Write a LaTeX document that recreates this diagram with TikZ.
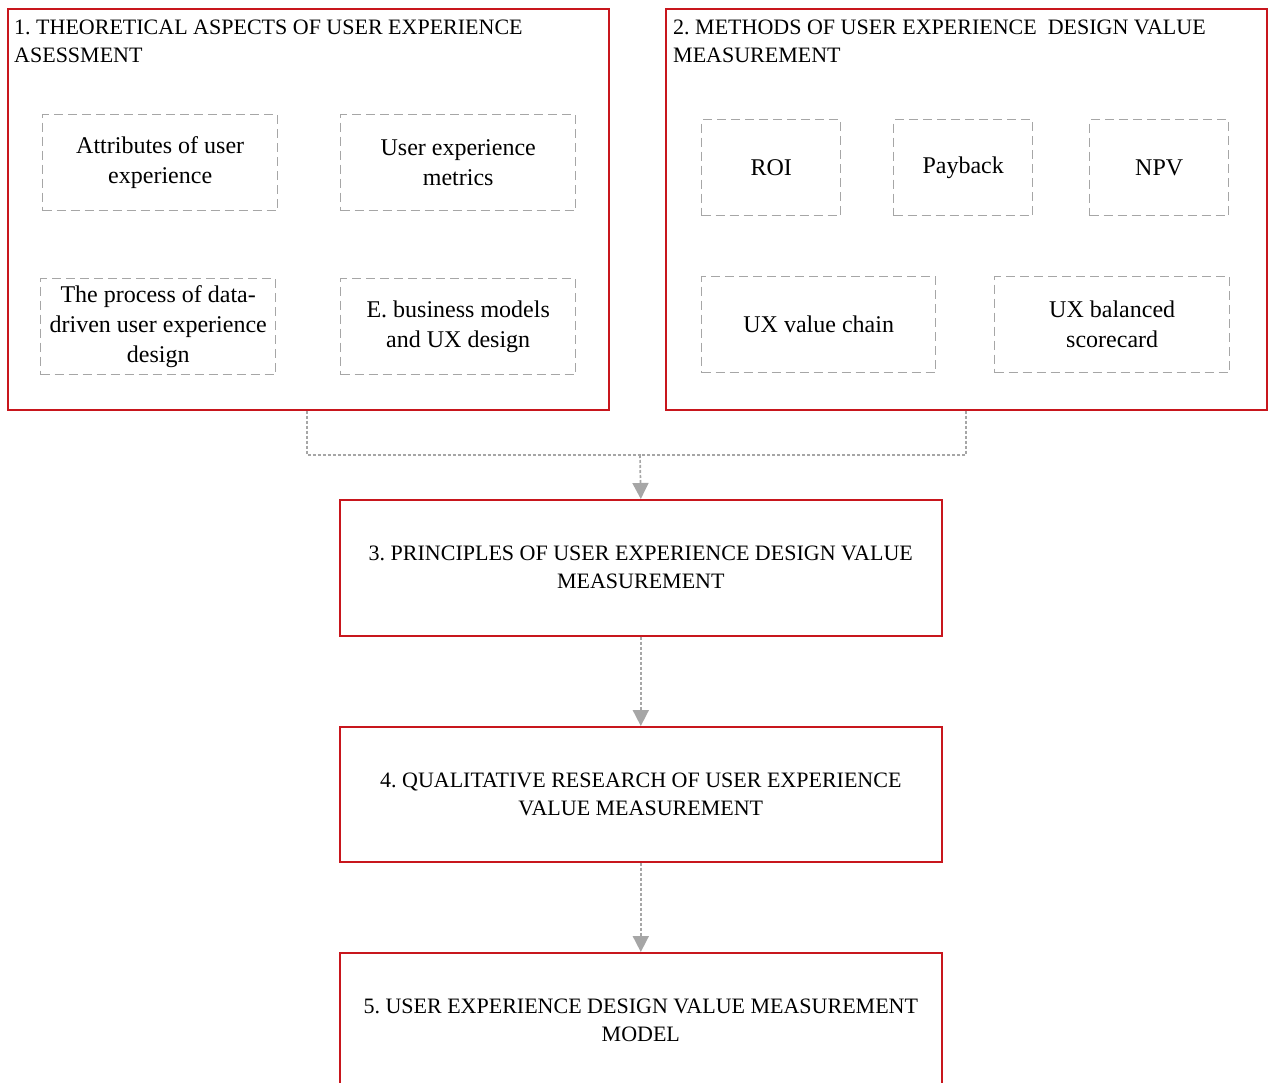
\documentclass[tikz,border=0pt]{standalone}
\usepackage{fontspec}
\setmainfont{Liberation Serif}
\frenchspacing
\usetikzlibrary{arrows.meta}
\definecolor{boxred}{HTML}{C8161D}
\definecolor{lgray}{HTML}{A6A6A6}
\begin{document}
\begin{tikzpicture}[x=1pt,y=-1pt,
 redbox/.style={draw=boxred, line width=1.6pt, inner sep=0pt, anchor=north west, align=center, font=\fontsize{22}{28}\selectfont},
 subbox/.style={draw=lgray, line width=1.4pt, dash pattern=on 9pt off 5pt, align=center, font=\fontsize{24}{30}\selectfont, inner sep=0pt, anchor=north west},
 head/.style={anchor=north west, align=left, font=\fontsize{22}{28}\selectfont, inner sep=0pt},
 conn/.style={draw=lgray, line width=1.7pt, dash pattern=on 3pt off 2pt},
 arr/.style={conn, -{Triangle[length=16pt,width=16pt]}}]
\useasboundingbox (0,0) rectangle (1271,1083);
% main boxes
\node[redbox, minimum width=601pt, minimum height=401pt] (b1) at (7,8) {};
\node[redbox, minimum width=601pt, minimum height=401pt] (b2) at (665,8) {};
\node[redbox, minimum width=602pt, minimum height=136pt] (b3) at (339,499) {3. PRINCIPLES OF USER EXPERIENCE DESIGN VALUE\\MEASUREMENT};
\node[redbox, minimum width=602pt, minimum height=135pt] (b4) at (339,726) {4. QUALITATIVE RESEARCH OF USER EXPERIENCE\\VALUE MEASUREMENT};
\node[redbox, minimum width=602pt, minimum height=136pt] (b5) at (339,952) {5. USER EXPERIENCE DESIGN VALUE MEASUREMENT\\MODEL};
% headers
\node[head] (h1) at (14,20) {1. THEORETICAL ASPECTS OF USER EXPERIENCE\\ASESSMENT};
\node[head] (h2) at (673,20) {2. METHODS OF USER EXPERIENCE\ \ DESIGN VALUE\\MEASUREMENT};
% sub boxes of 1
\node[subbox, minimum width=235pt, minimum height=96pt] (s11) at (42,114) {Attributes of user\\experience};
\node[subbox, minimum width=235pt, minimum height=96pt] (s12) at (340,114) {User experience\\metrics};
\node[subbox, minimum width=235pt, minimum height=96pt] (s13) at (40,278) {The process of data-\\driven user experience\\design};
\node[subbox, minimum width=235pt, minimum height=96pt] (s14) at (340,278) {E. business models\\and UX design};
% sub boxes of 2
\node[subbox, minimum width=139pt, minimum height=96pt] (s21) at (701,119) {ROI};
\node[subbox, minimum width=139pt, minimum height=96pt] (s22) at (893,119) {Payback};
\node[subbox, minimum width=139pt, minimum height=96pt] (s23) at (1089,119) {NPV};
\node[subbox, minimum width=234pt, minimum height=96pt] (s24) at (701,276) {UX value chain};
\node[subbox, minimum width=235pt, minimum height=96pt] (s25) at (994,276) {UX balanced\\scorecard};
% connectors
\coordinate (j) at (640,455);
\draw[conn] ([xshift=300pt]b1.south west) |- (j);
\draw[conn] ([xshift=301pt]b2.south west) |- (j);
\draw[arr] (j) -- (b3.north);
\draw[arr] (b3.south) -- (b4.north);
\draw[arr] (b4.south) -- (b5.north);
\end{tikzpicture}
\end{document}
